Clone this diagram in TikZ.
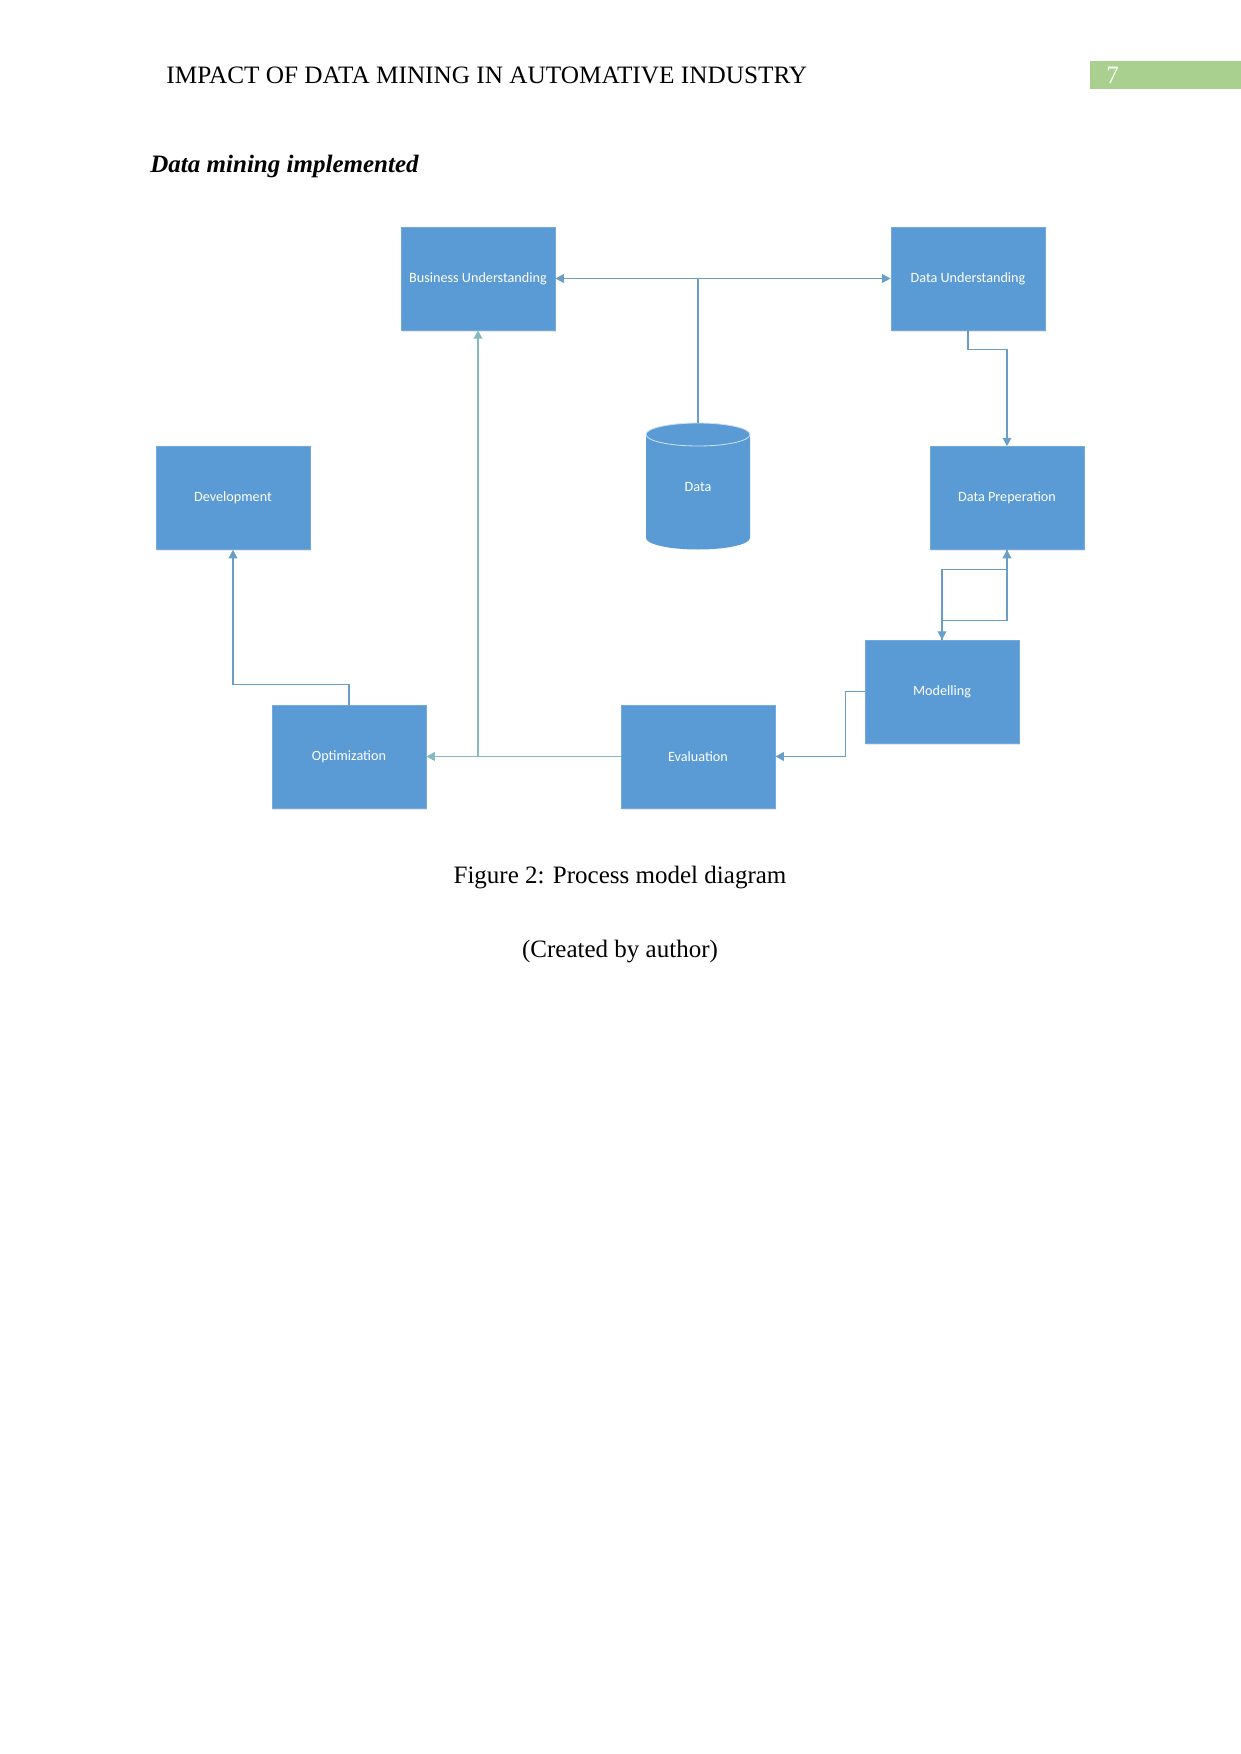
\documentclass[tikz,border=0pt]{standalone}
\usepackage{fontspec}
\setmainfont{Liberation Serif}
\newfontfamily\boxfont{Carlito}
\usetikzlibrary{arrows.meta,positioning,shadows}
\definecolor{stepblue}{RGB}{91,155,213}
\definecolor{linkblue}{RGB}{104,158,200}
\definecolor{linkteal}{RGB}{135,185,192}
\definecolor{pagegreen}{RGB}{169,208,142}
\tikzset{
    % process boxes (office blue), 154 x 103 px
    stepbox/.style={
        rectangle, fill=stepblue, draw=stepblue!85!white, line width=0.4pt,
        minimum width=73.9pt, minimum height=49.4pt, inner sep=0pt,
        text=white, font=\boxfont\fontsize{6.8}{8}\selectfont,
        drop shadow={opacity=0.18, shadow xshift=0.6pt, shadow yshift=-0.8pt}
    },
    % connectors
    link/.style={line width=0.55pt, linkblue},
    tealink/.style={line width=0.55pt, linkteal},
    linkarrow/.style={-{Triangle[length=4pt,width=4.2pt]}},
    % page texts
    pagetext/.style={font=\fontsize{12}{14}\selectfont, inner sep=0pt},
}
\begin{document}
\begin{tikzpicture}[x=0.4797pt, y=-0.4797pt]
  \useasboundingbox[fill=white] (0,0) rectangle (1241,1754);

  % page header
  \node[pagetext, anchor=west, xscale=1.01] (header) at (166,75) {IMPACT OF DATA MINING IN AUTOMATIVE INDUSTRY};
  \fill[pagegreen] (1090,61) rectangle (1241,89);
  \node[pagetext, anchor=west, text=white] (pageno) at (1106,75) {7};
  \node[pagetext, anchor=west, font=\fontsize{12}{14}\selectfont\bfseries\itshape] (title) at (150,166) {Data mining implemented};

  % the data store
  \fill[stepblue] (646,434.5) -- (646,538) arc[x radius=52, y radius=11.5, start angle=180, end angle=0]
     -- (750,434.5) arc[x radius=52, y radius=11.5, start angle=0, end angle=-180] -- cycle;
  \draw[white!70!stepblue, line width=0.4pt] (698,434.5) ellipse[x radius=52, y radius=11.5];
  \node[text=white, font=\boxfont\fontsize{6.8}{8}\selectfont, minimum width=49.9pt, minimum height=61.4pt, inner sep=0pt] (data) at (698,487) {Data};

  % process steps
  \node[stepbox] (bu)   at (478,278.5)  {Business Understanding};
  \node[stepbox] (du)   at (968,278.5)  {Data Understanding};
  \node[stepbox] (dev)  at (233,498)    {Development};
  \node[stepbox] (dp)   at (1007,498)   {Data Preperation};
  \node[stepbox] (mod)  at (942,691.5)  {Modelling};
  \node[stepbox] (opt)  at (349,756.5)  {Optimization};
  \node[stepbox] (eval) at (698,756.5)  {Evaluation};

  % connectors
  \coordinate (hub) at (data.north |- bu.east);
  \draw[link] (data.north) -- (hub);
  \draw[link, linkarrow] (hub) -- (bu.east);
  \draw[link, linkarrow] (hub) -- (du.west);
  \draw[link, linkarrow] (du.south) -- ++(0,19) -| (dp.north);
  \draw[link, linkarrow] (dp.south) -- ++(0,71) -| (mod.north);
  \draw[link, linkarrow] (mod.north) -- ++(0,-70) -| (dp.south);
  \draw[link, linkarrow] (mod.west) -- ++(-19,0) |- (eval.east);
  \draw[tealink, linkarrow] (eval.west) -- (opt.east);
  \draw[tealink, linkarrow] (eval.west -| bu.south) -- (bu.south);
  \draw[link, linkarrow] (opt.north) -- ++(0,-20) -| (dev.south);

  % caption
  \node[pagetext] (caption) at (620,878) {Figure 2: Process model diagram};
  \node[pagetext] (credit)  at (620,952) {(Created by author)};
\end{tikzpicture}
\end{document}
